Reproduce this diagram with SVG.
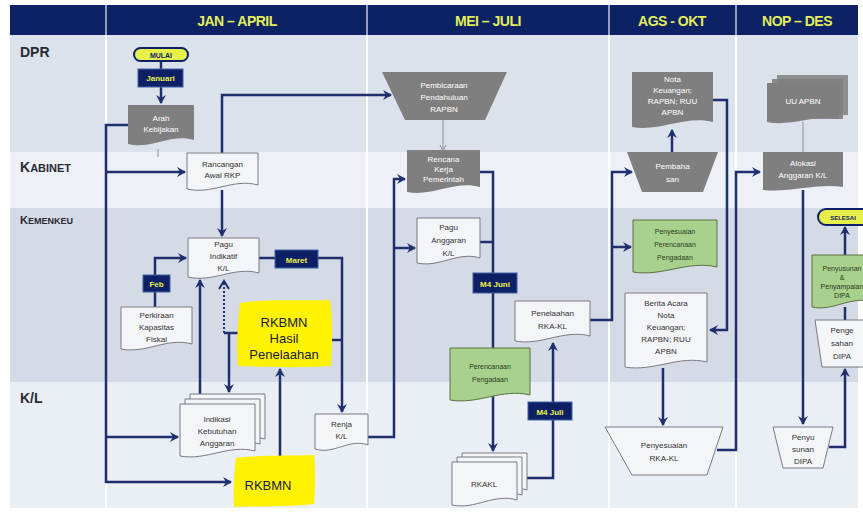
<svg xmlns="http://www.w3.org/2000/svg" width="863" height="514" viewBox="0 0 863 514">
<style>
.hdr{font-family:"Liberation Sans",Arial,sans-serif;font-weight:bold;font-size:14px;fill:#e3ee5c;text-anchor:middle;letter-spacing:-0.5px}
.row{font-family:"Liberation Sans",Arial,sans-serif;font-weight:bold;fill:#2a2a35}
.t{font-family:"Liberation Sans",Arial,sans-serif;font-size:8px;fill:#333;text-anchor:middle}
.tw{font-family:"Liberation Sans",Arial,sans-serif;font-size:8px;fill:#fff;text-anchor:middle}
.tg{font-family:"Liberation Sans",Arial,sans-serif;font-size:7px;fill:#2a3a20;text-anchor:middle}
.lbl{font-family:"Liberation Sans",Arial,sans-serif;font-size:8px;font-weight:bold;fill:#eef24a;text-anchor:middle}
.big{font-family:"Liberation Sans",Arial,sans-serif;font-size:13px;fill:#1a1a40;text-anchor:middle}
.gray{fill:#7f7f7f}
.light{fill:#f4f5f8;stroke:#7a7a80;stroke-width:1}
.green{fill:#a9d18e;stroke:#5a7040;stroke-width:1}
.navybox{fill:#0d2066;stroke:#4060a0;stroke-width:1}
.yel{fill:#fff200}
.pill{fill:#e6f04a;stroke:#0d2066;stroke-width:2}
.c{fill:none;stroke:#1f2f6e;stroke-width:2.5}
.ca{fill:none;stroke:#1f2f6e;stroke-width:2.5;marker-end:url(#ah)}
.thin{fill:none;stroke:#8a8f9a;stroke-width:1}
.sep{stroke:#ffffff;stroke-width:2}
</style>
<defs>
<marker id="ah" markerUnits="userSpaceOnUse" markerWidth="12" markerHeight="12" refX="9" refY="6" orient="auto">
<path d="M1,1 L10,6 L1,11 L4,6 Z" fill="#1f2f6e"/>
</marker>
<marker id="ahs" markerUnits="userSpaceOnUse" markerWidth="8" markerHeight="8" refX="6" refY="4" orient="auto">
<path d="M1,1 L7,4 L1,7" fill="none" stroke="#8a8f9a" stroke-width="1"/>
</marker>
<marker id="aho" markerUnits="userSpaceOnUse" markerWidth="12" markerHeight="12" refX="9" refY="6" orient="auto">
<path d="M1,1 L9,6 L1,11" fill="none" stroke="#1f2f6e" stroke-width="2"/>
</marker>
</defs>
<rect width="863" height="514" fill="#ffffff"/>
<g id="lanes">
<rect x="10" y="35" width="848" height="117" fill="#dce2ec"/>
<rect x="10" y="152" width="848" height="56" fill="#edf0f6"/>
<rect x="10" y="208" width="848" height="174" fill="#d5dbe6"/>
<rect x="10" y="382" width="848" height="126" fill="#eaeef5"/>
<line class="sep" x1="106" y1="35" x2="106" y2="508"/>
<line class="sep" x1="367" y1="35" x2="367" y2="508"/>
<line class="sep" x1="609" y1="35" x2="609" y2="508"/>
<line class="sep" x1="736" y1="35" x2="736" y2="508"/>
<rect x="10" y="5" width="848" height="30" fill="#0c2264"/>
<line x1="106" y1="5" x2="106" y2="35" stroke="#c0c8dc" stroke-width="1.5"/>
<line x1="367" y1="5" x2="367" y2="35" stroke="#c0c8dc" stroke-width="1.5"/>
<line x1="609" y1="5" x2="609" y2="35" stroke="#c0c8dc" stroke-width="1.5"/>
<line x1="736" y1="5" x2="736" y2="35" stroke="#c0c8dc" stroke-width="1.5"/>
<text class="hdr" x="237" y="26">JAN – APRIL</text>
<text class="hdr" x="488" y="26">MEI – JULI</text>
<text class="hdr" x="672" y="26">AGS - OKT</text>
<text class="hdr" x="797" y="26">NOP – DES</text>
<text class="row" x="20" y="57" font-size="14">DPR</text>
<text class="row" x="20" y="172" font-size="14">K<tspan font-size="11">ABINET</tspan></text>
<text class="row" x="20" y="224" font-size="11">K<tspan font-size="9">EMENKEU</tspan></text>
<text class="row" x="20" y="403" font-size="14">K/L</text>
</g>
<g id="connectors">
<path class="c" d="M161,61 V69"/>
<path class="ca" d="M161,87 V103"/>
<path class="thin" d="M158,149 V157"/>
<path class="ca" d="M128,125 H106 V482 H231"/>
<path class="ca" d="M106,172 H185"/>
<path class="ca" d="M106,437 H178"/>
<path class="ca" d="M222,153 V95 H391"/>
<path class="ca" d="M222,190 V236"/>
<path class="ca" d="M155,307 V258 H186"/>
<path class="ca" d="M259,258 H342 V412"/>
<path class="c" d="M332,340 H342"/>
<path class="c" d="M238,333 H224"/>
<path class="ca" d="M229,333 V392"/>
<path fill="none" stroke="#1f2f6e" stroke-width="2" stroke-dasharray="2,2" marker-end="url(#aho)" d="M224,333 V281"/>
<path class="ca" d="M200,395 V280"/>
<path class="ca" d="M280,457 V369"/>
<path class="ca" d="M368,437 H394 V179 H405"/>
<path class="ca" d="M394,248 H415"/>
<path class="thin" marker-end="url(#ahs)" d="M443,120 V150"/>
<path class="ca" d="M480,172 H493 V451"/>
<path class="c" d="M480,242 H493"/>
<path class="ca" d="M517,478 H553 V343"/>
<path class="ca" d="M590,320 H612 V172 H632"/>
<path class="ca" d="M612,247 H631"/>
<path class="ca" d="M672,152 V130"/>
<path class="ca" d="M713,100 H727 V330 H710"/>
<path class="ca" d="M663,368 V425"/>
<path class="ca" d="M717,450 H736 V172 H760"/>
<path class="thin" d="M803,122 V152"/>
<path class="ca" d="M803,190 V424"/>
<path class="ca" d="M829,447 H845 V369"/>
<path class="c" d="M845,320 V307"/>
<path class="ca" d="M845,255 V227"/>
</g>
<g id="mulai">
<rect class="pill" x="134" y="48" width="54" height="13" rx="6.5"/>
<text x="161" y="57.5" font-family="Liberation Sans,Arial,sans-serif" font-size="7" font-weight="bold" fill="#0d2066" text-anchor="middle">MULAI</text>
</g>
<g id="januari"><rect class="navybox" x="138" y="69" width="45" height="18"/><text class="lbl" x="160.5" y="81">Januari</text></g>
<g id="arah">
<path class="gray" d="M128,105 h66 v35 c-23,-7 -43,10 -66,4 z"/>
<text class="tw" x="161" y="121">Arah</text><text class="tw" x="161" y="132">Kebijakan</text>
</g>
<g id="rancangan">
<path class="light" d="M187,153 h71 v32 c-25,-7 -46,10 -71,4 z"/>
<text class="t" x="222.5" y="167">Rancangan</text><text class="t" x="222.5" y="178">Awal RKP</text>
</g>
<g id="pagu-indikatif">
<path class="light" d="M188,238 h71 v35 c-25,-7 -46,10 -71,4 z"/>
<text class="t" x="223.5" y="247">Pagu</text><text class="t" x="223.5" y="259">Indikatif</text><text class="t" x="223.5" y="271">K/L</text>
</g>
<g id="feb"><rect class="navybox" x="143" y="275" width="27" height="17"/><text class="lbl" x="156.5" y="287">Feb</text></g>
<g id="perkiraan">
<path class="light" d="M121,307 h71 v37 c-25,-7 -46,10 -71,5 z"/>
<text class="t" x="156.5" y="318">Perkiraan</text><text class="t" x="156.5" y="330">Kapasitas</text><text class="t" x="156.5" y="342">Fiskal</text>
</g>
<g id="maret"><rect class="navybox" x="275" y="250" width="43" height="18"/><text class="lbl" x="296.5" y="263">Maret</text></g>
<g id="rkbmn-hasil">
<path class="yel" d="M240,303 C262,299 300,301 330,300 C333,320 332,345 331,366 C300,368 265,367 238,366 C236,345 238,320 240,303 Z"/>
<text class="big" x="284" y="327">RKBMN</text><text class="big" x="284" y="343">Hasil</text><text class="big" x="284" y="359">Penelaahan</text>
</g>
<g id="indikasi">
<path class="light" d="M190,394 h75 v45 c-26,-7 -49,10 -75,5 z"/>
<path class="light" d="M185,399 h75 v45 c-26,-7 -49,10 -75,5 z"/>
<path class="light" d="M180,404 h75 v47 c-26,-7 -49,10 -75,5 z"/>
<text class="t" x="217" y="422">Indikasi</text><text class="t" x="217" y="434">Kebutuhan</text><text class="t" x="217" y="446">Anggaran</text>
</g>
<g id="rkbmn">
<path class="yel" d="M236,458 C258,455 290,456 314,455 C316,472 315,490 314,504 C290,507 260,506 234,507 C233,490 234,472 236,458 Z"/>
<text class="big" x="268" y="490">RKBMN</text>
</g>
<g id="renja">
<path class="light" d="M315,414 h53 v31 c-19,-7 -34,10 -53,4 z"/>
<text class="t" x="341.5" y="427">Renja</text><text class="t" x="341.5" y="439">K/L</text>
</g>
<g id="pembicaraan">
<polygon class="gray" points="382,72 507,72 485,120 405,120"/>
<text class="tw" x="444" y="88">Pembicaraan</text><text class="tw" x="444" y="100">Pendahuluan</text><text class="tw" x="444" y="112">RAPBN</text>
</g>
<g id="rencana-kerja">
<path class="gray" d="M407,150 h73 v37 c-25,-7 -48,10 -73,5 z"/>
<text class="tw" x="443.5" y="162" font-size="6">Rencana</text><text class="tw" x="443.5" y="172" font-size="6">Kerja</text><text class="tw" x="443.5" y="182" font-size="6">Pemerintah</text>
</g>
<g id="pagu-anggaran">
<path class="light" d="M417,218 h63 v40 c-22,-7 -41,10 -63,5 z"/>
<text class="t" x="448.5" y="230">Pagu</text><text class="t" x="448.5" y="243">Anggaran</text><text class="t" x="448.5" y="256">K/L</text>
</g>
<g id="m4juni"><rect class="navybox" x="473" y="273" width="44" height="20"/><text class="lbl" x="495" y="287">M4 Juni</text></g>
<g id="perencanaan-pengadaan">
<path class="green" d="M450,348 h80 v47 c-28,-7 -52,10 -80,5 z"/>
<text class="tg" x="490" y="369">Perencanaan</text><text class="tg" x="490" y="382">Pengadaan</text>
</g>
<g id="penelaahan">
<path class="light" d="M515,301 h75 v35 c-26,-7 -49,10 -75,5 z"/>
<text class="t" x="552.5" y="316">Penelaahan</text><text class="t" x="552.5" y="329">RKA-KL</text>
</g>
<g id="rkakl">
<path class="light" d="M462,453 h65 v37 c-23,-7 -42,10 -65,5 z"/>
<path class="light" d="M457,457 h65 v38 c-23,-7 -42,10 -65,5 z"/>
<path class="light" d="M452,462 h65 v38 c-23,-7 -42,10 -65,5 z"/>
<text class="t" x="484" y="487">RKAKL</text>
</g>
<g id="m4juli"><rect class="navybox" x="528" y="402" width="44" height="18"/><text class="lbl" x="550" y="415">M4 Juli</text></g>
<g id="nota">
<path class="gray" d="M632,72 h81 v50 c-28,-7 -53,10 -81,5 z"/>
<text class="tw" x="672.5" y="82">Nota</text><text class="tw" x="672.5" y="93">Keuangan;</text><text class="tw" x="672.5" y="104">RAPBN; RUU</text><text class="tw" x="672.5" y="115">APBN</text>
</g>
<g id="pembahasan">
<polygon class="gray" points="627,152 718,152 703,192 642,192"/>
<text class="tw" x="672.5" y="169">Pembaha</text><text class="tw" x="672.5" y="182">san</text>
</g>
<g id="penyesuaian-perencanaan">
<path class="green" d="M633,220 h84 v47 c-29,-7 -55,10 -84,5 z"/>
<text class="tg" x="675" y="234">Penyesuaian</text><text class="tg" x="675" y="247">Perencanaan</text><text class="tg" x="675" y="260">Pengadaan</text>
</g>
<g id="berita-acara">
<path class="light" d="M625,293 h82 v69 c-28,-7 -54,10 -82,5 z"/>
<text class="t" x="666" y="306">Berita Acara</text><text class="t" x="666" y="318">Nota</text><text class="t" x="666" y="330">Keuangan;</text><text class="t" x="666" y="342">RAPBN; RUU</text><text class="t" x="666" y="354">APBN</text>
</g>
<g id="penyesuaian-rkakl">
<polygon class="light" points="605,427 723,427 707,475 632,475"/>
<text class="t" x="664" y="448">Penyesuaian</text><text class="t" x="664" y="461">RKA-KL</text>
</g>
<g id="uu-apbn">
<path class="gray" d="M777,75 h71 v40 h-71 z" opacity="0.85"/>
<path class="gray" d="M772,79 h71 v40 h-71 z" opacity="0.9"/>
<path class="gray" d="M767,83 h72 v36 c-25,-5 -47,8 -72,3 z"/>
<text class="tw" x="803" y="104">UU APBN</text>
</g>
<g id="alokasi">
<path class="gray" d="M763,152 h80 v35 c-28,-4 -52,6 -80,3 z"/>
<text class="tw" x="803" y="166">Alokasi</text><text class="tw" x="803" y="178">Anggaran K/L</text>
</g>
<g id="selesai">
<rect class="pill" x="818" y="209" width="52" height="16" rx="8"/>
<text x="843" y="220" font-family="Liberation Sans,Arial,sans-serif" font-size="6" font-weight="bold" fill="#0d2066" text-anchor="middle">SELESAI</text>
</g>
<g id="penyusunan-penyampaian">
<path class="green" d="M812,255 h60 v47 c-21,-7 -39,10 -60,5 z"/>
<text class="tg" x="842" y="271" font-size="5.5">Penyusunan</text><text class="tg" x="842" y="280" font-size="5.5">&amp;</text><text class="tg" x="842" y="289" font-size="5.5">Penyampaian</text><text class="tg" x="842" y="298" font-size="5.5">DIPA</text>
</g>
<g id="pengesahan">
<polygon class="light" points="815,320 872,320 872,367 822,367"/>
<text class="t" x="842" y="333">Penge</text><text class="t" x="842" y="346">sahan</text><text class="t" x="842" y="359">DIPA</text>
</g>
<g id="penyusunan-dipa">
<polygon class="light" points="773,427 833,427 823,468 783,468"/>
<text class="t" x="803" y="440">Penyu</text><text class="t" x="803" y="452">sunan</text><text class="t" x="803" y="464">DIPA</text>
</g>
</svg>
